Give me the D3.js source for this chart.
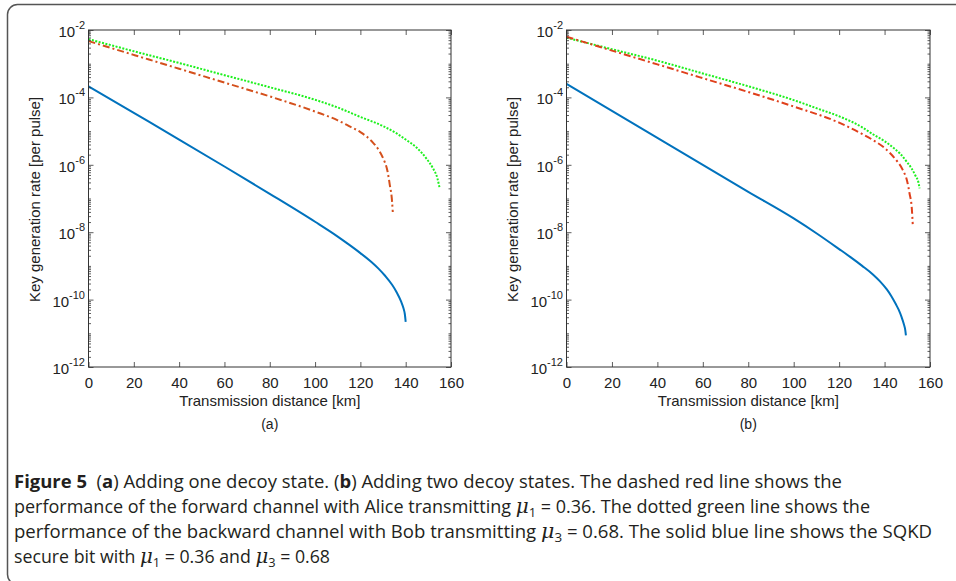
<!DOCTYPE html>
<html>
<head>
<meta charset="utf-8">
<script src="https://cdn.jsdelivr.net/npm/d3@7"></script>
<style>
  body { margin: 0; background: #fff; }
  svg { display: block; }
</style>
</head>
<body>
<div id="chart"></div>
<script>
// ---- data (distance in km, rate per pulse) ----
const distA_green = [0, 20, 40, 60, 80, 100, 110, 120, 130, 136, 140, 145, 149, 152, 154, 155];
const rateA_green = [5.37e-3, 2.34e-3, 1.05e-3, 4.57e-4, 2.0e-4, 8.51e-5, 5.01e-5, 2.63e-5, 1.41e-5, 8.51e-6, 5.62e-6, 3.16e-6, 1.58e-6, 7.94e-7, 3.98e-7, 2.0e-7];

const distA_red = [0, 20, 40, 60, 80, 100, 110, 115, 120, 125, 128, 130, 132, 133, 134, 134.3];
const rateA_red = [4.68e-3, 1.82e-3, 7.08e-4, 2.75e-4, 1.07e-4, 3.80e-5, 2.09e-5, 1.41e-5, 9.33e-6, 5.01e-6, 2.82e-6, 1.58e-6, 6.31e-7, 2.51e-7, 7.94e-8, 3.98e-8];

const distA_blue = [0, 20, 40, 60, 80, 100, 110, 115, 120, 125, 128, 131, 134, 136, 138, 139, 139.6, 140];
const rateA_blue = [2.14e-4, 3.47e-5, 5.62e-6, 8.91e-7, 1.38e-7, 2.04e-8, 7.41e-9, 4.27e-9, 2.40e-9, 1.29e-9, 8.32e-10, 5.01e-10, 2.75e-10, 1.66e-10, 8.71e-11, 5.62e-11, 3.80e-11, 2.19e-11];

const distB_green = [0, 20, 40, 60, 80, 100, 110, 120, 130, 135, 140, 144, 147, 150, 152, 153.5, 155, 155.4];
const rateB_green = [5.89e-3, 2.69e-3, 1.23e-3, 5.13e-4, 2.14e-4, 8.32e-5, 4.79e-5, 2.75e-5, 1.32e-5, 7.94e-6, 5.01e-6, 3.16e-6, 2.09e-6, 1.17e-6, 7.59e-7, 4.90e-7, 2.82e-7, 2.0e-7];

const distB_red = [0, 20, 40, 60, 80, 100, 120, 130, 135, 140, 145, 148, 150, 151, 152, 152.4];
const rateB_red = [6.31e-3, 2.45e-3, 9.55e-4, 3.72e-4, 1.45e-4, 5.37e-5, 1.78e-5, 8.32e-6, 5.37e-6, 3.16e-6, 1.41e-6, 7.08e-7, 3.16e-7, 1.41e-7, 5.01e-8, 1.74e-8];

const distB_blue = [0, 20, 40, 60, 80, 100, 110, 120, 125, 130, 135, 138, 141, 143, 145, 146.2, 147.5, 148.5, 149.1, 149.4];
const rateB_blue = [2.51e-4, 3.98e-5, 6.31e-6, 1.0e-6, 1.58e-7, 2.57e-8, 9.33e-9, 3.16e-9, 1.82e-9, 1.02e-9, 5.50e-10, 3.47e-10, 2.0e-10, 1.26e-10, 7.24e-11, 5.01e-11, 3.02e-11, 1.86e-11, 1.26e-11, 8.71e-12];

const xTicks = [0, 20, 40, 60, 80, 100, 120, 140, 160];
const yTickExps = [-12, -10, -8, -6, -4, -2];
const panelLabels = ["(a)", "(b)"];
const xLabel = "Transmission distance [km]";
const yLabel = "Key generation rate [per pulse]";

const width = 956;
const height = 581;
const plotTop = 30;
const plotBottom = 367;

const svg = d3.select("#chart").append("svg")
  .attr("width", width)
  .attr("height", height)
  .style("font-family", "'Liberation Sans', Arial, sans-serif");

// outer figure frame
svg.append("rect")
  .attr("x", 7.5).attr("y", 4.5)
  .attr("width", 1000).attr("height", 580)
  .attr("rx", 10)
  .attr("fill", "none")
  .attr("stroke", "#555")
  .attr("stroke-width", 1.5);

const zip = (xs, ys) => xs.map((d, i) => [d, ys[i]]);

const panels = [
  {
    left: 88.5, right: 451, label: panelLabels[0],
    series: [
      { pts: zip(distA_green, rateA_green), color: "#1ef01e", dash: "2,1.5", w: 2 },
      { pts: zip(distA_red, rateA_red), color: "#d4501c", dash: "7,3,2,3", w: 2 },
      { pts: zip(distA_blue, rateA_blue), color: "#0072bd", dash: null, w: 2 }
    ]
  },
  {
    left: 566.5, right: 930, label: panelLabels[1],
    series: [
      { pts: zip(distB_green, rateB_green), color: "#1ef01e", dash: "2,1.5", w: 2 },
      { pts: zip(distB_red, rateB_red), color: "#e0401c", dash: "7,3,2,3", w: 2 },
      { pts: zip(distB_blue, rateB_blue), color: "#0072bd", dash: null, w: 2 }
    ]
  }
];

// minor tick positions on the log axis
const minorTicks = [];
for (let e = -12; e < -2; e++) {
  for (let k = 1; k <= 9; k++) {
    if (k === 1 && e % 2 === 0) continue;
    minorTicks.push(k * Math.pow(10, e));
  }
}

panels.forEach((p) => {
  const g = svg.append("g");
  const x = d3.scaleLinear().domain([0, 160]).range([p.left, p.right]);
  const y = d3.scaleLog().domain([1e-12, 1e-2]).range([plotBottom, plotTop]);

  // curves
  const line = d3.line()
    .x((d) => x(d[0]))
    .y((d) => y(d[1]))
    .curve(d3.curveMonotoneX);

  p.series.forEach((s) => {
    g.append("path")
      .attr("d", line(s.pts))
      .attr("fill", "none")
      .attr("stroke", s.color)
      .attr("stroke-width", s.w)
      .attr("stroke-dasharray", s.dash);
  });

  // axes with inward ticks
  const xb = g.append("g")
    .attr("transform", `translate(0,${plotBottom})`)
    .call(d3.axisBottom(x).tickValues(xTicks).tickSizeInner(-5).tickSizeOuter(0).tickPadding(10));
  const xt = g.append("g")
    .attr("transform", `translate(0,${plotTop})`)
    .call(d3.axisTop(x).tickValues(xTicks).tickSizeInner(-5).tickSizeOuter(0).tickFormat(""));

  const majors = yTickExps.map((e) => Math.pow(10, e));
  const yl = g.append("g")
    .attr("transform", `translate(${p.left},0)`)
    .call(d3.axisLeft(y).tickValues(majors).tickSizeInner(-5).tickSizeOuter(0).tickFormat(""));
  const yr = g.append("g")
    .attr("transform", `translate(${p.right},0)`)
    .call(d3.axisRight(y).tickValues(majors).tickSizeInner(-5).tickSizeOuter(0).tickFormat(""));

  const ylm = g.append("g")
    .attr("transform", `translate(${p.left},0)`)
    .call(d3.axisLeft(y).tickValues(minorTicks).tickSizeInner(-2.5).tickSizeOuter(0).tickFormat(""));
  const yrm = g.append("g")
    .attr("transform", `translate(${p.right},0)`)
    .call(d3.axisRight(y).tickValues(minorTicks).tickSizeInner(-2.5).tickSizeOuter(0).tickFormat(""));

  [xb, xt, yl, yr, ylm, yrm].forEach((a) => {
    a.select(".domain").remove();
    a.selectAll("line").attr("stroke", "#333").attr("stroke-width", 0.8);
  });
  xb.selectAll("text").attr("font-size", 15).attr("fill", "#222")
    .attr("font-family", "'Liberation Sans', Arial, sans-serif");

  // y tick labels: 10 with superscript exponent
  yTickExps.forEach((e) => {
    const t = g.append("text")
      .attr("x", p.left - 3.5)
      .attr("y", y(Math.pow(10, e)) + 7)
      .attr("text-anchor", "end")
      .attr("fill", "#222")
      .attr("font-size", 15);
    t.append("tspan").text("10");
    t.append("tspan").attr("dy", -8).attr("font-size", 11).text(String(e));
  });

  // box
  g.append("rect")
    .attr("x", p.left).attr("y", plotTop)
    .attr("width", p.right - p.left).attr("height", plotBottom - plotTop)
    .attr("fill", "none")
    .attr("stroke", "#333")
    .attr("stroke-width", 1);

  const cx = (p.left + p.right) / 2;
  g.append("text")
    .attr("x", cx).attr("y", 406)
    .attr("text-anchor", "middle")
    .attr("font-size", 15).attr("fill", "#222")
    .text(xLabel);
  g.append("text")
    .attr("x", cx).attr("y", 429)
    .attr("text-anchor", "middle")
    .attr("font-size", 14).attr("fill", "#222")
    .text(p.label);
  g.append("text")
    .attr("transform", `translate(${p.left - 48.5},${(plotTop + plotBottom) / 2 + 1}) rotate(-90)`)
    .attr("text-anchor", "middle")
    .attr("font-size", 15).attr("fill", "#222")
    .text(yLabel);
});

// ---- caption ----
const captionLines = [
  [["Figure 5", "b"], ["  (", ""], ["a", "b"], [") Adding one decoy state. (", ""], ["b", "b"], [") Adding two decoy states. The dashed red line shows the", ""]],
  [["performance of the forward channel with Alice transmitting ", ""], ["\u03bc", "mu"], ["1", "sub"], [" = 0.36. The dotted green line shows the", ""]],
  [["performance of the backward channel with Bob transmitting ", ""], ["\u03bc", "mu"], ["3", "sub"], [" = 0.68. The solid blue line shows the SQKD", ""]],
  [["secure bit with ", ""], ["\u03bc", "mu"], ["1", "sub"], [" = 0.36 and ", ""], ["\u03bc", "mu"], ["3", "sub"], [" = 0.68", ""]]
];
const captionWidths = [828, 856, 918, 316];
const captionY = [488, 513, 538, 563];

captionLines.forEach((segs, i) => {
  const t = svg.append("text")
    .attr("x", 14).attr("y", captionY[i])
    .attr("font-family", "'Open Sans', 'Noto Sans', sans-serif")
    .attr("font-size", 18)
    .attr("fill", "#231f20")
    .attr("textLength", captionWidths[i])
    .attr("lengthAdjust", "spacingAndGlyphs")
    .style("white-space", "pre");
  let shift = 0;
  segs.forEach(([txt, kind]) => {
    const s = t.append("tspan").text(txt);
    let want = 0;
    if (kind === "b") s.attr("font-weight", "bold");
    if (kind === "mu") {
      s.attr("font-family", "'DejaVu Serif', serif").attr("font-style", "italic").attr("font-size", 20);
    }
    if (kind === "sub") {
      s.attr("font-size", 13);
      want = 4;
    }
    if (want !== shift) {
      s.attr("dy", want - shift);
      shift = want;
    }
  });
});
</script>
</body>
</html>
